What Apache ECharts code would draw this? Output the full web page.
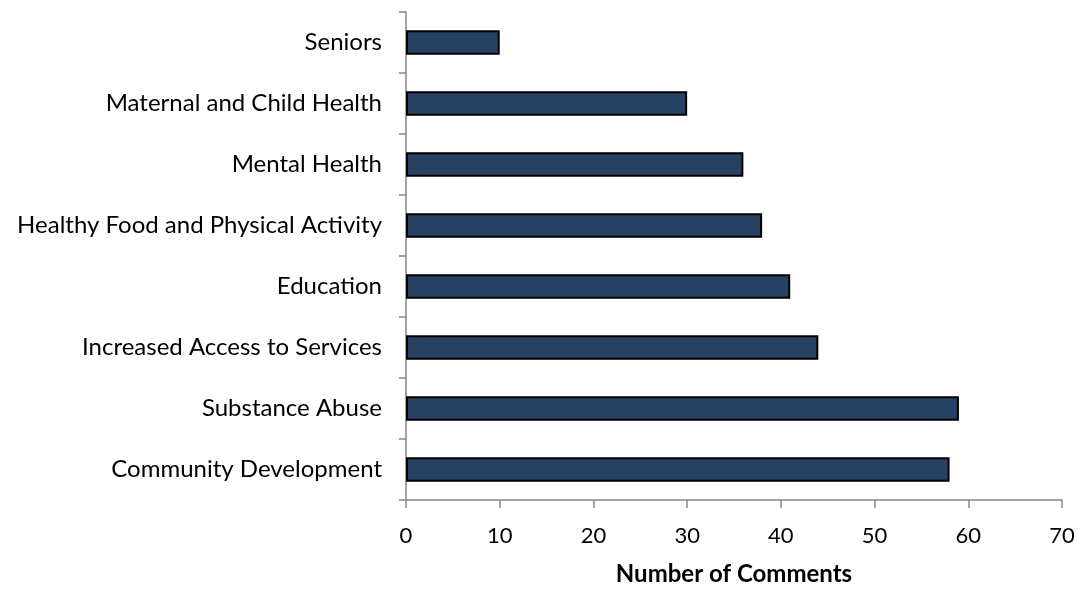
<!DOCTYPE html>
<html>
<head>
<meta charset="utf-8">
<script src="https://cdn.jsdelivr.net/npm/echarts@6/dist/echarts.min.js"></script>
<style>
html,body{margin:0;padding:0;background:#fff;}
#c{width:1078px;height:591px;}
</style>
</head>
<body>
<div id="c"></div>
<script>
var categories = ["Seniors","Maternal and Child Health","Mental Health","Healthy Food and Physical Activity","Education","Increased Access to Services","Substance Abuse","Community Development"];
var comments = [10,30,36,38,41,44,59,58];
var xTicks = {min:0,max:70,interval:10};
var xTitle = "Number of Comments";

var chart = echarts.init(document.getElementById('c'), null, {renderer:'canvas'});
var axisColor = '#868686';
chart.setOption({
  animation:false,
  backgroundColor:'#fff',
  grid:{left:406,right:16,top:12,bottom:87,containLabel:false},
  xAxis:{
    type:'value', min:xTicks.min, max:xTicks.max, interval:xTicks.interval,
    name:xTitle, nameLocation:'middle', nameGap:62,
    nameTextStyle:{fontFamily:'Lato',fontWeight:'bold',fontSize:24,color:'#000'},
    axisLine:{show:true,lineStyle:{color:axisColor,width:1.5}},
    axisTick:{show:true,length:8,lineStyle:{color:axisColor,width:1.5}},
    axisLabel:{fontFamily:'Lato',fontSize:22,color:'#000',margin:25},
    splitLine:{show:false}
  },
  yAxis:{
    type:'category', data:categories, inverse:true,
    axisLine:{show:true,lineStyle:{color:axisColor,width:1.5}},
    axisTick:{show:true,length:7,lineStyle:{color:axisColor,width:1.5}},
    axisLabel:{fontFamily:'Lato',fontSize:24,color:'#000',margin:24}
  },
  series:[{
    type:'bar', data:comments, barWidth:'40%',
    itemStyle:{color:'#274163',borderColor:'#000',borderWidth:2}
  }]
});
</script>
</body>
</html>
